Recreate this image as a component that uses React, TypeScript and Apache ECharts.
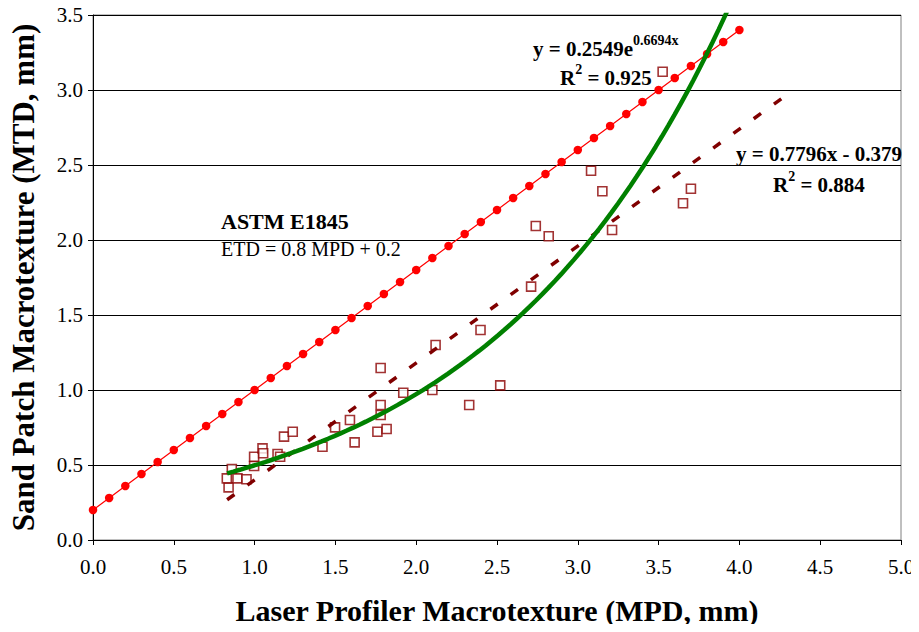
import React, { useEffect, useRef } from "react";
import * as echarts from "echarts";

// Measured pairs: laser profiler MPD (mm) vs sand patch MTD (mm)
const measuredMpd = [
  0.839, 0.828, 0.859, 0.894, 0.95, 0.997, 0.997, 1.049, 1.053, 1.142, 1.158, 1.182, 1.236,
  1.42, 1.498, 1.59, 1.619, 1.76, 1.817, 1.78, 1.78, 1.78, 1.92, 2.1, 2.12, 2.398, 2.328,
  2.52, 2.711, 2.74, 2.82, 3.082, 3.152, 3.212, 3.525, 3.651, 3.7,
];
const measuredMtd = [
  0.351, 0.411, 0.473, 0.411, 0.405, 0.493, 0.555, 0.611, 0.578, 0.573, 0.555, 0.689, 0.722,
  0.622, 0.751, 0.8, 0.651, 0.722, 0.74, 0.833, 0.9, 1.147, 0.982, 1.0, 1.3, 1.4, 0.9,
  1.031, 1.689, 2.093, 2.025, 2.462, 2.325, 2.067, 3.122, 2.245, 2.342,
];

// ASTM E1845 reference line: ETD = 0.8 MPD + 0.2, marked every 0.1 mm
const astmMpd = [
  0.0, 0.1, 0.2, 0.3, 0.4, 0.5, 0.6, 0.7, 0.8, 0.9, 1.0, 1.1, 1.2, 1.3, 1.4, 1.5, 1.6, 1.7,
  1.8, 1.9, 2.0, 2.1, 2.2, 2.3, 2.4, 2.5, 2.6, 2.7, 2.8, 2.9, 3.0, 3.1, 3.2, 3.3, 3.4, 3.5,
  3.6, 3.7, 3.8, 3.9, 4.0,
];
const astmSlope = 0.8;
const astmIntercept = 0.2;

// Trend line coefficients
const expCoefA = 0.2549;
const expCoefB = 0.6694;
const linSlope = 0.7796;
const linIntercept = -0.379;
const expRange = [0.83, 3.95];
const linRange = [0.83, 4.31];

const xTicks = { min: 0, max: 5, step: 0.5 };
const yTicks = { min: 0, max: 3.5, step: 0.5 };

const SERIF = '"Liberation Serif", "Times New Roman", serif';

export default function App() {
  const ref = useRef<HTMLDivElement>(null);

  useEffect(() => {
    if (!ref.current) return;
    const chart = echarts.init(ref.current, undefined, { renderer: "svg" });

    const scatterData = measuredMpd.map((x, i) => [x, measuredMtd[i]]);
    const astmData = astmMpd.map((x) => [x, +(astmSlope * x + astmIntercept).toFixed(4)]);
    const linData = linRange.map((x) => [x, linSlope * x + linIntercept]);
    const expData: number[][] = [];
    for (let k = 0; k <= 80; k++) {
      const x = expRange[0] + ((expRange[1] - expRange[0]) * k) / 80;
      expData.push([x, expCoefA * Math.exp(expCoefB * x)]);
    }

    const bold = { fontFamily: SERIF, fontWeight: "bold" as const, fontSize: 21, fill: "#000" };
    const supRich = {
      a: { ...bold, lineHeight: 26, verticalAlign: "bottom" },
      s: { ...bold, fontSize: 14, lineHeight: 26, verticalAlign: "top" },
    };

    chart.setOption({
      animation: false,
      backgroundColor: "#fff",
      grid: {
        left: 92,
        right: 18,
        top: 15,
        bottom: 92,
        show: true,
        borderColor: "#808080",
        borderWidth: 1,
      },
      xAxis: {
        type: "value",
        min: xTicks.min,
        max: xTicks.max,
        interval: xTicks.step,
        name: "Laser Profiler Macrotexture (MPD, mm)",
        nameLocation: "middle",
        nameGap: 55,
        nameTextStyle: { fontFamily: SERIF, fontWeight: "bold", fontSize: 30, color: "#000" },
        axisLine: { lineStyle: { color: "#000", width: 1 } },
        axisTick: { show: true, length: 5, lineStyle: { color: "#000" } },
        axisLabel: {
          margin: 16,
          fontFamily: SERIF,
          fontSize: 21,
          color: "#000",
          formatter: (v: number) => v.toFixed(1),
        },
        splitLine: { show: false },
      },
      yAxis: {
        type: "value",
        min: yTicks.min,
        max: yTicks.max,
        interval: yTicks.step,
        name: "Sand Patch Macrotexture (MTD, mm)",
        nameLocation: "middle",
        nameGap: 54,
        nameTextStyle: { fontFamily: SERIF, fontWeight: "bold", fontSize: 31, color: "#000" },
        axisLine: { show: true, lineStyle: { color: "#000", width: 1 } },
        axisTick: { show: true, length: 5, lineStyle: { color: "#000" } },
        axisLabel: {
          margin: 10,
          fontFamily: SERIF,
          fontSize: 21,
          color: "#000",
          formatter: (v: number) => v.toFixed(1),
        },
        splitLine: { show: true, lineStyle: { color: "#000", width: 1 } },
      },
      series: [
        {
          name: "Measured",
          type: "scatter",
          data: scatterData,
          symbol: "rect",
          symbolSize: 9,
          itemStyle: { color: "#fff", borderColor: "#8b0000", borderWidth: 1.6 },
          z: 2,
        },
        {
          name: "Linear fit",
          type: "line",
          data: linData,
          showSymbol: false,
          lineStyle: { color: "#800000", width: 3.5, type: [9, 16] },
          z: 3,
        },
        {
          name: "ASTM E1845",
          type: "line",
          data: astmData,
          symbol: "circle",
          symbolSize: 8.5,
          itemStyle: { color: "#ff0000" },
          lineStyle: { color: "#ff0000", width: 1.2 },
          z: 4,
        },
        {
          name: "Exponential fit",
          type: "line",
          data: expData,
          showSymbol: false,
          clip: true,
          lineStyle: { color: "#008000", width: 4.5 },
          z: 5,
        },
      ],
      graphic: [
        {
          type: "text",
          x: 533,
          y: 46,
          z: 10,
          style: { text: "{a|y = 0.2549e}{s|0.6694x}", verticalAlign: "middle", rich: supRich },
        },
        {
          type: "text",
          x: 560,
          y: 75,
          z: 10,
          style: { text: "{a|R}{s|2}{a| = 0.925}", verticalAlign: "middle", rich: supRich },
        },
        {
          type: "text",
          x: 736,
          y: 154,
          z: 10,
          style: { ...bold, text: "y = 0.7796x - 0.379", verticalAlign: "middle" },
        },
        {
          type: "text",
          x: 773,
          y: 182,
          z: 10,
          style: { text: "{a|R}{s|2}{a| = 0.884}", verticalAlign: "middle", rich: supRich },
        },
        {
          type: "text",
          x: 221,
          y: 221,
          z: 10,
          style: { ...bold, fontSize: 22, text: "ASTM E1845", verticalAlign: "middle" },
        },
        {
          type: "text",
          x: 221,
          y: 249,
          z: 10,
          style: {
            text: "ETD = 0.8 MPD + 0.2",
            fontFamily: SERIF,
            fontSize: 20,
            fill: "#000",
            verticalAlign: "middle",
          },
        },
      ],
    });

    return () => chart.dispose();
  }, []);

  return <div ref={ref} style={{ width: 919, height: 632, margin: -8 }} />;
}
